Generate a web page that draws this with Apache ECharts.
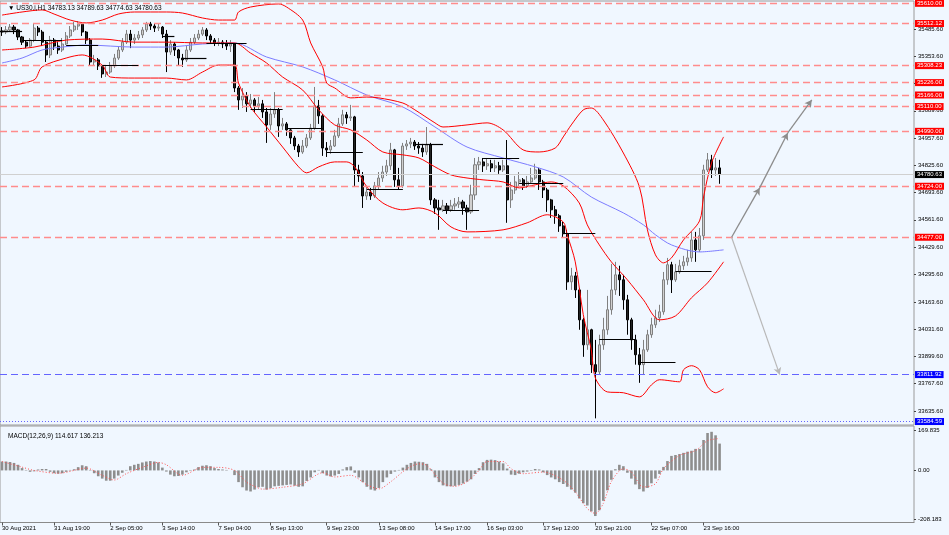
<!DOCTYPE html>
<html>
<head>
<meta charset="utf-8">
<script src="https://cdn.jsdelivr.net/npm/echarts@6/dist/echarts.min.js"></script>
<style>
html,body{margin:0;padding:0;background:#F0F7FF;}
#chart{width:949px;height:535px;}
</style>
</head>
<body>
<div id="chart"></div>
<script>
const symbolTitle = '\u25BC US30.i,H1 34783.13 34789.63 34774.63 34780.63';
const macdTitle = 'MACD(12,26,9) 114.617 136.213';
const slotCount = 228;

// [open, close, low, high]
const candles = [
[35476,35471,35452,35495],[35471,35481,35461,35500],[35481,35495,35471,35510],[35495,35481,35461,35505],[35481,35447,35432,35486],
[35447,35422,35408,35452],[35422,35403,35393,35432],[35403,35432,35398,35442],[35432,35490,35422,35510],[35490,35471,35452,35500],
[35471,35422,35403,35481],[35422,35360,35326,35432],[35360,35432,35345,35452],[35432,35403,35384,35442],[35403,35384,35365,35422],
[35384,35413,35374,35442],[35413,35452,35408,35471],[35452,35481,35442,35500],[35481,35500,35471,35520],[35500,35510,35481,35524],
[35510,35471,35452,35515],[35471,35432,35413,35476],[35432,35326,35307,35442],[35326,35336,35307,35360],[35336,35307,35287,35345],
[35307,35268,35249,35316],[35268,35277,35253,35307],[35277,35307,35268,35326],[35307,35345,35297,35365],[35345,35384,35336,35403],
[35384,35422,35374,35442],[35422,35461,35413,35481],[35461,35432,35393,35481],[35432,35442,35413,35461],[35442,35457,35432,35476],
[35457,35481,35442,35495],[35481,35510,35471,35520],[35510,35500,35481,35520],[35500,35490,35471,35510],[35490,35495,35476,35510],
[35495,35461,35442,35500],[35461,35374,35277,35481],[35374,35413,35360,35432],[35413,35384,35355,35422],[35384,35345,35307,35389],
[35345,35336,35302,35365],[35336,35384,35326,35403],[35384,35422,35374,35442],[35422,35442,35413,35461],[35442,35461,35432,35481],
[35461,35481,35452,35495],[35481,35452,35432,35490],[35452,35432,35413,35461],[35432,35418,35403,35442],[35418,35422,35403,35442],
[35422,35413,35393,35432],[35413,35403,35384,35432],[35403,35413,35374,35432],[35413,35200,35180,35418],[35200,35142,35094,35210],
[35142,35161,35103,35200],[35161,35123,35084,35180],[35123,35142,35103,35171],[35142,35113,35084,35151],[35113,35123,35094,35156],
[35123,35084,35055,35142],[35084,35021,34934,35103],[35021,35074,34997,35103],[35074,35094,35055,35180],[35094,35016,34963,35103],
[35016,35026,34997,35055],[35026,34997,34968,35035],[34997,34958,34929,35006],[34958,34919,34900,34968],[34919,34890,34866,34929],
[34890,34919,34881,34948],[34919,34958,34909,34977],[34958,35006,34948,35026],[35006,35113,34997,35205],[35113,35065,35026,35142],
[35065,34909,34871,35074],[34909,34900,34866,34938],[34900,34919,34881,34948],[34919,34968,34914,34997],[34968,35026,34958,35055],
[35026,35070,35016,35094],[35070,35055,35026,35084],[35055,35060,35040,35118],[35060,34803,34721,35065],[34803,34774,34745,34828],
[34774,34677,34619,34793],[34677,34696,34658,34726],[34696,34677,34658,34716],[34677,34726,34667,34745],[34726,34764,34706,34793],
[34764,34793,34745,34823],[34793,34823,34774,34852],[34823,34900,34803,34934],[34900,34755,34721,34905],[34755,34726,34706,34813],
[34726,34919,34716,34934],[34919,34929,34900,34948],[34929,34938,34909,34958],[34938,34919,34900,34948],[34919,34909,34881,34938],
[34909,34890,34866,34929],[34890,34924,34876,35011],[34924,34658,34634,34934],[34658,34619,34590,34667],[34619,34610,34513,34658],
[34610,34629,34600,34658],[34629,34610,34590,34643],[34610,34629,34600,34658],[34629,34638,34610,34667],[34638,34648,34619,34672],
[34648,34619,34586,34658],[34619,34600,34513,34634],[34600,34682,34590,34731],[34682,34828,34658,34861],[34828,34842,34803,34866],
[34842,34823,34793,34861],[34823,34833,34803,34861],[34833,34813,34793,34852],[34813,34823,34793,34852],[34823,34803,34784,34842],
[34803,34823,34793,34852],[34823,34658,34547,34948],[34658,34706,34619,34745],[34706,34745,34687,34774],[34745,34755,34716,34793],
[34755,34726,34706,34764],[34726,34745,34716,34774],[34745,34764,34736,34813],[34764,34803,34755,34833],[34803,34745,34706,34813],
[34745,34706,34667,34755],[34706,34658,34600,34716],[34658,34610,34571,34663],[34610,34581,34542,34629],[34581,34532,34503,34590],
[34532,34494,34474,34551],[34494,34261,34222,34513],[34261,34290,34222,34329],[34290,34222,34183,34309],[34222,34077,34029,34230],
[34077,33956,33898,34087],[33956,34029,33932,34222],[34029,33860,33820,34034],[33860,33825,33600,33980],[33825,33956,33811,34005],
[33956,34029,33932,34087],[34029,34126,34005,34193],[34126,34222,34102,34348],[34222,34295,34198,34358],[34295,34271,34193,34339],
[34271,34174,34126,34295],[34174,34077,34005,34198],[34077,33980,33932,34087],[33980,33908,33860,34005],[33908,33860,33772,33941],
[33860,33932,33811,33980],[33932,34005,33922,34029],[34005,34053,33990,34087],[34053,34087,34038,34126],[34087,34116,34067,34150],
[34116,34271,34102,34309],[34271,34344,34247,34377],[34344,34271,34207,34358],[34271,34309,34261,34348],[34309,34339,34300,34368],
[34339,34358,34319,34387],[34358,34377,34339,34416],[34377,34464,34358,34503],[34464,34416,34358,34503],[34416,34484,34406,34522],
[34484,34803,34464,34828],[34803,34852,34793,34885],[34852,34803,34764,34876],[34803,34813,34774,34861],[34813,34780.63,34736,34852]
];

// Bollinger bands and moving average: [bar index, price]
const bbUpper = [[0,35553],[5,35568],[10,35578],[13,35558],[17,35529],[21,35515],[25,35529],[29,35558],[33,35568],[41,35568],[45,35563],[50,35539],[54,35529],[58,35529],[59,35568],[62,35592],[69,35607],[71,35592],[75,35529],[77,35418],[80,35302],[81,35224],[83,35200],[87,35152],[91,35156],[94,35152],[100,35127],[103,35094],[108,35031],[110,35011],[116,35021],[121,35031],[125,34997],[130,34900],[134,34890],[138,34909],[140,34963],[142,35021],[145,35094],[147,35103],[150,35045],[155,34885],[159,34721],[161,34513],[163,34392],[165,34353],[167,34377],[170,34464],[174,34556],[175,34672],[177,34837],[180,34963]];
const bbMiddle = [[0,35384],[8,35398],[16,35432],[25,35437],[33,35422],[41,35422],[50,35418],[58,35418],[62,35369],[66,35321],[70,35253],[75,35190],[79,35094],[83,35021],[87,34997],[91,34948],[95,34890],[100,34876],[104,34861],[108,34818],[112,34779],[116,34764],[120,34755],[125,34745],[129,34716],[133,34731],[137,34745],[140,34726],[144,34643],[146,34537],[149,34440],[152,34358],[156,34271],[160,34174],[164,34077],[168,34096],[172,34184],[176,34256],[180,34358]];
const bbLower = [[0,35205],[8,35239],[10,35302],[16,35345],[20,35360],[25,35311],[27,35253],[33,35248],[41,35248],[46,35239],[50,35277],[54,35311],[58,35311],[59,35224],[62,35108],[66,35011],[70,34914],[74,34818],[76,34789],[79,34818],[83,34842],[86,34842],[88,34818],[91,34721],[95,34643],[100,34610],[104,34619],[108,34595],[112,34527],[116,34503],[125,34513],[131,34547],[136,34586],[140,34551],[141,34489],[143,34358],[145,34102],[147,33932],[148,33796],[151,33728],[155,33724],[159,33704],[162,33762],[164,33787],[169,33777],[170,33835],[172,33855],[174,33835],[176,33753],[178,33724],[180,33743]];
const maLine = [[0,35321],[5,35345],[10,35384],[15,35398],[21,35408],[33,35398],[41,35398],[50,35413],[58,35418],[66,35350],[75,35302],[83,35239],[91,35166],[100,35108],[108,35011],[116,34914],[125,34861],[133,34818],[140,34769],[147,34672],[155,34595],[160,34537],[163,34489],[167,34440],[174,34406],[180,34416]];

const macdHist = [
38,38,36,32,24,10,2,-6,-4,4,
6,6,-6,-12,-14,-12,-6,2,5,14,
22,18,2,-12,-25,-35,-44,-44,-35,-22,
-10,2,18,24,28,34,38,40,38,34,
12,-5,-18,-25,-24,-18,-8,-2,4,14,
20,22,18,10,6,4,2,0,-20,-50,
-72,-86,-90,-82,-72,-70,-82,-76,-68,-66,
-64,-62,-60,-65,-70,-68,-45,-30,-8,2,
-12,-22,-26,-22,-15,4,14,17,-10,-30,
-50,-70,-82,-86,-75,-50,-30,-15,-5,2,
12,24,32,38,37,35,28,5,-30,-50,
-64,-68,-68,-66,-62,-56,-48,-38,-15,10,
35,45,46,44,38,30,8,-18,-20,-14,
-8,-5,-2,6,4,-8,-20,-30,-38,-50,
-58,-70,-82,-95,-120,-140,-150,-175,-195,-170,
-130,-85,-40,5,24,18,-10,-35,-60,-80,
-90,-75,-55,-35,-15,15,40,62,66,70,
75,80,84,92,92,130,160,165,150,114.617
];
const macdSignal = [[0,38],[5,14],[8,0],[14,-12],[20,8],[21,10],[25,-21],[28,-41],[31,-14],[35,13],[39,34],[41,24],[45,-21],[50,13],[54,13],[58,0],[61,-50],[63,-68],[65,-80],[70,-72],[75,-57],[80,-10],[83,-28],[87,-21],[91,-61],[94,-79],[97,-48],[101,7],[104,28],[106,21],[110,-54],[113,-68],[116,-48],[119,0],[121,38],[125,38],[127,7],[130,-14],[135,-7],[140,-42],[143,-92],[146,-163],[148,-184],[150,-141],[152,-48],[155,7],[157,-7],[160,-71],[163,-57],[165,7],[169,64],[173,85],[176,127],[179,136.213]];

const priceTicks = [33635.6,33767.6,33899.6,34031.6,34163.6,34295.6,34429.6,34561.6,34693.6,34825.6,34957.6,35089.6,35221.6,35353.6,35485.6];
const redLevels = [35610.00,35512.12,35308.23,35226.00,35166.00,35110.00,34990.00,34724.00,34477.00];
const blueDashLevel = 33811.92;
const blueDotLevel = 33584.59;
const lastPrice = 34780.63;
const macdTicks = [169.835, 0, -208.183];
const macdTickLabels = ['169.835','0.00','-208.183'];

const xTickIdx = [0,13,27,40,54,67,81,94,108,121,135,148,162,175];
const xTickText = ['30 Aug 2021','31 Aug 19:00','2 Sep 05:00','3 Sep 14:00','7 Sep 04:00','8 Sep 13:00','9 Sep 23:00','13 Sep 08:00','14 Sep 17:00','16 Sep 03:00','17 Sep 12:00','20 Sep 21:00','22 Sep 07:00','23 Sep 16:00'];

// daily horizontal segments: [from bar, to bar, price]
const dayLines = [[0,5,35476],[5,15,35432],[16,24,35408],[25,34,35312],[40,43,35452],[45,51,35345],[51,61,35418],[62,70,35099],[71,80,35006],[81,90,34890],[91,100,34711],[103,110,34929],[110,119,34610],[120,129,34861],[129,140,34740],[140,148,34498],[149,158,33985],[159,168,33874],[168,177,34314]];
// projection arrows: [bar, price]
const arrowUp = [[182,34477],[189,34716],[196,34982],[202,35142]];
const arrowDown = [[182,34477],[194,33811.92]];

const categories = [];
for (let i = 0; i < slotCount; i++) categories.push(String(i));
const tickMap = {};
xTickIdx.forEach((k, j) => { tickMap[k] = xTickText[j]; });

const FONT = 'Liberation Sans';
const chart = echarts.init(document.getElementById('chart'), null, {renderer: 'canvas'});

const boxLabel = (bg) => ({
  show: true, position: 'end', distance: 1,
  formatter: p => p.value.toFixed(2),
  backgroundColor: bg, color: '#fff', fontSize: 6, fontFamily: FONT,
  padding: [1, 2, 0, 2], lineHeight: 6
});

const upSegs = [];
for (let k = 0; k < arrowUp.length - 1; k++) {
  upSegs.push([{coord: arrowUp[k]}, {coord: arrowUp[k + 1]}]);
}

const option = {
  animation: false,
  backgroundColor: '#F0F7FF',
  title: [
    {text: symbolTitle, left: 3, top: 0, textStyle: {fontSize: 6.5, fontWeight: 'normal', color: '#000', fontFamily: FONT}},
    {text: macdTitle, left: 3, top: 428, textStyle: {fontSize: 6.5, fontWeight: 'normal', color: '#000', fontFamily: FONT}}
  ],
  grid: [
    {left: 0, right: 35, top: 1, height: 424, show: true, borderColor: '#9a9a9a', borderWidth: 1, outerBoundsMode: 'none', containLabel: false},
    {left: 0, right: 35, top: 426, height: 96.5, show: true, borderColor: '#9a9a9a', borderWidth: 1, outerBoundsMode: 'none', containLabel: false}
  ],
  xAxis: [
    {type: 'category', gridIndex: 0, data: categories, boundaryGap: true, show: false},
    {type: 'category', gridIndex: 1, data: categories, boundaryGap: true, position: 'bottom',
      axisLine: {show: true, onZero: false, lineStyle: {color: '#8a8a8a'}},
      axisTick: {show: true, alignWithLabel: true, length: 3, interval: (i) => tickMap[i] !== undefined, lineStyle: {color: '#555'}},
      axisLabel: {show: true, interval: (i) => tickMap[i] !== undefined, formatter: (v, i) => tickMap[i] || '',
        align: 'left', margin: 3, fontSize: 6, fontFamily: FONT, color: '#000'},
      splitLine: {show: false}}
  ],
  yAxis: [
    {type: 'value', gridIndex: 0, min: 33567.8, max: 35621.2, position: 'right', scale: true,
      axisLine: {show: false},
      axisTick: {show: true, customValues: priceTicks, length: 2, lineStyle: {color: '#444'}},
      axisLabel: {show: true, customValues: priceTicks, formatter: v => v.toFixed(2), margin: 4, fontSize: 6, fontFamily: FONT, color: '#000'},
      splitLine: {show: false}},
    {type: 'value', gridIndex: 1, min: -222.6, max: 189.8, position: 'right',
      axisLine: {show: false},
      axisTick: {show: true, customValues: macdTicks, length: 2, lineStyle: {color: '#444'}},
      axisLabel: {show: true, customValues: macdTicks, formatter: v => macdTickLabels[macdTicks.indexOf(v)] || String(v), margin: 4, fontSize: 6, fontFamily: FONT, color: '#000'},
      splitLine: {show: false}}
  ],
  series: [
    {
      name: 'levels', type: 'line', xAxisIndex: 0, yAxisIndex: 0, data: [[0, null]], z: 2,
      showSymbol: false, symbol: 'none', silent: true,
      markLine: {
        silent: true, symbol: 'none', animation: false,
        data: [
          ...redLevels.map(v => ({yAxis: v, lineStyle: {color: '#ff8c8c', type: [7, 4], width: 1.3}, label: boxLabel('#ff0000')})),
          {yAxis: blueDashLevel, lineStyle: {color: '#6464ff', type: [7, 4], width: 1.2}, label: boxLabel('#0000ff')},
          {yAxis: blueDotLevel, lineStyle: {color: '#6464ff', type: [1, 2], width: 1}, label: boxLabel('#0000ff')},
          {yAxis: lastPrice, lineStyle: {color: '#d0d0d0', type: 'solid', width: 1}, label: boxLabel('#000000')}
        ]
      }
    },
    {
      name: 'price', type: 'candlestick', xAxisIndex: 0, yAxisIndex: 0, data: candles, z: 3,
      barWidth: 2.6,
      itemStyle: {color: '#d0d0d0', borderColor: '#808080', color0: '#222', borderColor0: '#000', borderWidth: 1}
    },
    {
      name: 'MA', type: 'line', xAxisIndex: 0, yAxisIndex: 0, data: maLine, z: 4,
      smooth: 0.3, showSymbol: false, symbol: 'none', lineStyle: {color: '#7c7cff', width: 1}
    },
    {
      name: 'BB upper', type: 'line', xAxisIndex: 0, yAxisIndex: 0, data: bbUpper, z: 4,
      smooth: 0.3, showSymbol: false, symbol: 'none', lineStyle: {color: '#ff0000', width: 1}
    },
    {
      name: 'BB middle', type: 'line', xAxisIndex: 0, yAxisIndex: 0, data: bbMiddle, z: 4,
      smooth: 0.3, showSymbol: false, symbol: 'none', lineStyle: {color: '#ff0000', width: 1}
    },
    {
      name: 'BB lower', type: 'line', xAxisIndex: 0, yAxisIndex: 0, data: bbLower, z: 4,
      smooth: 0.3, showSymbol: false, symbol: 'none', lineStyle: {color: '#ff0000', width: 1},
      markLine: {
        silent: true, symbol: 'none', animation: false,
        lineStyle: {color: '#000', type: 'solid', width: 1.2},
        label: {show: false},
        data: dayLines.map(s => [{coord: [s[0], s[2]]}, {coord: [s[1], s[2]]}])
      }
    },
    {
      name: 'arrows', type: 'line', xAxisIndex: 0, yAxisIndex: 0, data: [[0, null]], z: 5,
      showSymbol: false, symbol: 'none', silent: true,
      markLine: {
        silent: true, animation: false, symbol: ['none', 'arrow'], symbolSize: [6, 7],
        label: {show: false},
        data: [
          ...upSegs.map(s => [Object.assign({lineStyle: {color: '#8c8c8c', width: 1.3, type: 'solid'}}, s[0]), s[1]]),
          [Object.assign({lineStyle: {color: '#b8b8b8', width: 1.2, type: 'solid'}}, {coord: arrowDown[0]}), {coord: arrowDown[1]}]
        ]
      }
    },
    {
      name: 'MACD', type: 'bar', xAxisIndex: 1, yAxisIndex: 1, data: macdHist, barWidth: 2.6,
      itemStyle: {color: '#8e8e8e'}, z: 2
    },
    {
      name: 'Signal', type: 'line', xAxisIndex: 1, yAxisIndex: 1, data: macdSignal, z: 3,
      smooth: 0.3, showSymbol: false, symbol: 'none', lineStyle: {color: '#ff5050', width: 1, type: [1, 2]}
    }
  ]
};
chart.setOption(option);
</script>
</body>
</html>
